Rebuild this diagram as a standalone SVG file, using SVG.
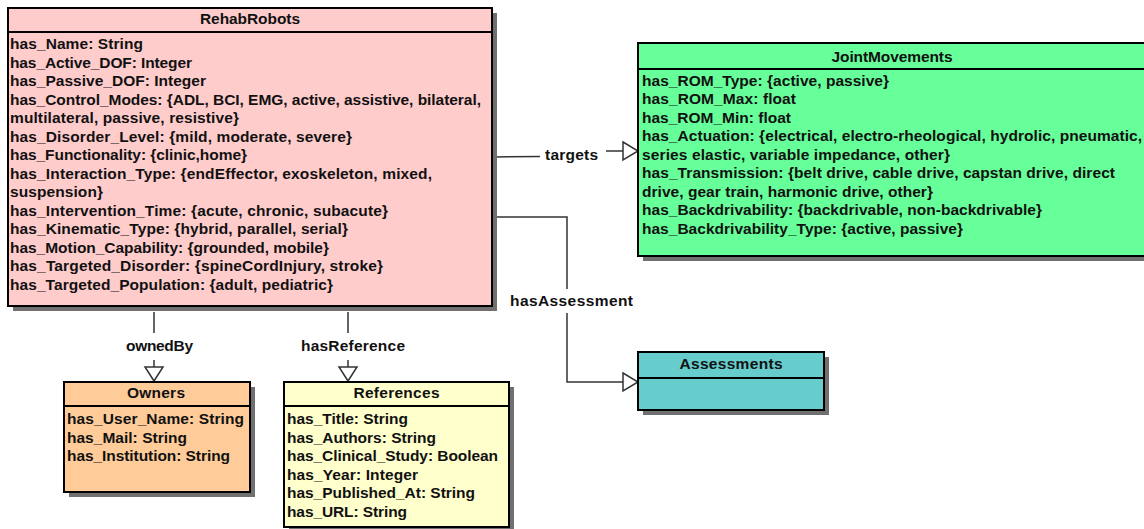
<svg xmlns="http://www.w3.org/2000/svg" width="1144" height="529" viewBox="0 0 1144 529">
<style>
.box{stroke:#000;stroke-width:2}
.sh{fill:#707070}
.t{font-family:"Liberation Sans",Arial,sans-serif;font-weight:bold;font-size:15.5px;fill:#111}
.c{text-anchor:middle}
.ln{stroke:#333;stroke-width:1.5;fill:none}
.ar{fill:#fff;stroke:#333;stroke-width:1.5}
</style>
<rect width="1144" height="529" fill="#fff"/>
<g id="connectors">
<path class="ln" d="M495,157 L540,156.5"/>
<path class="ln" d="M606,151 L623,151"/>
<polygon class="ar" points="623,142 638,151 623,160"/>
<text class="t c" x="571.5" y="160" textLength="53">targets</text>
<path class="ln" d="M495,217 L567,217 L567,289"/>
<path class="ln" d="M567,313 L567,382 L623,382"/>
<polygon class="ar" points="623,373 638,382 623,391"/>
<text class="t c" x="571.5" y="306" textLength="123">hasAssessment</text>
<path class="ln" d="M154,312 L154,333"/>
<path class="ln" d="M154,360 L154,367"/>
<polygon class="ar" points="145,367 163,367 154,381"/>
<text class="t c" x="159.5" y="351" textLength="67">ownedBy</text>
<path class="ln" d="M348,312 L348,333"/>
<path class="ln" d="M348,360 L348,367"/>
<polygon class="ar" points="339,367 357,367 348,381"/>
<text class="t c" x="353" y="351" textLength="104">hasReference</text>
</g>
<g id="RehabRobots">
<rect class="sh" x="13" y="13" width="484" height="298"/>
<rect class="box" x="8" y="8" width="484" height="298" fill="#ffcccc"/>
<line class="box" x1="8" y1="32" x2="492" y2="32"/>
<text class="t c" x="250" y="24" textLength="100">RehabRobots</text>
<text class="t" x="10" y="49" textLength="133">has_Name: String</text>
<text class="t" x="10" y="67.5" textLength="182">has_Active_DOF: Integer</text>
<text class="t" x="10" y="86" textLength="196">has_Passive_DOF: Integer</text>
<text class="t" x="10" y="104.5" textLength="471">has_Control_Modes: {ADL, BCI, EMG, active, assistive, bilateral,</text>
<text class="t" x="10" y="123" textLength="229">multilateral, passive, resistive}</text>
<text class="t" x="10" y="141.5" textLength="342">has_Disorder_Level: {mild, moderate, severe}</text>
<text class="t" x="10" y="160" textLength="237">has_Functionality: {clinic,home}</text>
<text class="t" x="10" y="178.5" textLength="422">has_Interaction_Type: {endEffector, exoskeleton, mixed,</text>
<text class="t" x="10" y="197" textLength="93">suspension}</text>
<text class="t" x="10" y="215.5" textLength="378">has_Intervention_Time: {acute, chronic, subacute}</text>
<text class="t" x="10" y="234" textLength="338">has_Kinematic_Type: {hybrid, parallel, serial}</text>
<text class="t" x="10" y="252.5" textLength="319">has_Motion_Capability: {grounded, mobile}</text>
<text class="t" x="10" y="271" textLength="373">has_Targeted_Disorder: {spineCordInjury, stroke}</text>
<text class="t" x="10" y="289.5" textLength="323">has_Targeted_Population: {adult, pediatric}</text>
</g>
<g id="JointMovements">
<rect class="sh" x="643" y="48" width="510" height="213"/>
<rect class="box" x="638" y="43" width="510" height="213" fill="#66ff99"/>
<line class="box" x1="638" y1="69" x2="1148" y2="69"/>
<text class="t c" x="892" y="62" textLength="121">JointMovements</text>
<text class="t" x="642" y="85.5" textLength="247">has_ROM_Type: {active, passive}</text>
<text class="t" x="642" y="104" textLength="154">has_ROM_Max: float</text>
<text class="t" x="642" y="122.5" textLength="149">has_ROM_Min: float</text>
<text class="t" x="642" y="141" textLength="500">has_Actuation: {electrical, electro-rheological, hydrolic, pneumatic,</text>
<text class="t" x="642" y="159.5" textLength="308">series elastic, variable impedance, other}</text>
<text class="t" x="642" y="178" textLength="473">has_Transmission: {belt drive, cable drive, capstan drive, direct</text>
<text class="t" x="642" y="196.5" textLength="291">drive, gear train, harmonic drive, other}</text>
<text class="t" x="642" y="215" textLength="400">has_Backdrivability: {backdrivable, non-backdrivable}</text>
<text class="t" x="642" y="233.5" textLength="321">has_Backdrivability_Type: {active, passive}</text>
</g>
<g id="Owners">
<rect class="sh" x="69" y="387" width="186" height="110"/>
<rect class="box" x="64" y="382" width="186" height="110" fill="#ffcc99"/>
<line class="box" x1="64" y1="406" x2="250" y2="406"/>
<text class="t c" x="156" y="398" textLength="58">Owners</text>
<text class="t" x="67" y="424" textLength="177">has_User_Name: String</text>
<text class="t" x="67" y="442.5" textLength="120">has_Mail: String</text>
<text class="t" x="67" y="461" textLength="163">has_Institution: String</text>
</g>
<g id="References">
<rect class="sh" x="289" y="387" width="225" height="145"/>
<rect class="box" x="284" y="382" width="225" height="145" fill="#ffffcc"/>
<line class="box" x1="284" y1="406" x2="509" y2="406"/>
<text class="t c" x="396.5" y="398" textLength="86">References</text>
<text class="t" x="287" y="424" textLength="121">has_Title: String</text>
<text class="t" x="287" y="442.5" textLength="149">has_Authors: String</text>
<text class="t" x="287" y="461" textLength="211">has_Clinical_Study: Boolean</text>
<text class="t" x="287" y="479.5" textLength="131">has_Year: Integer</text>
<text class="t" x="287" y="498" textLength="188">has_Published_At: String</text>
<text class="t" x="287" y="516.5" textLength="120">has_URL: String</text>
</g>
<g id="Assessments">
<rect class="sh" x="643" y="357" width="186" height="58"/>
<rect class="box" x="638" y="352" width="186" height="58" fill="#66cccc"/>
<line class="box" x1="638" y1="378" x2="824" y2="378"/>
<text class="t c" x="731" y="369" textLength="103">Assessments</text>
</g>
</svg>
